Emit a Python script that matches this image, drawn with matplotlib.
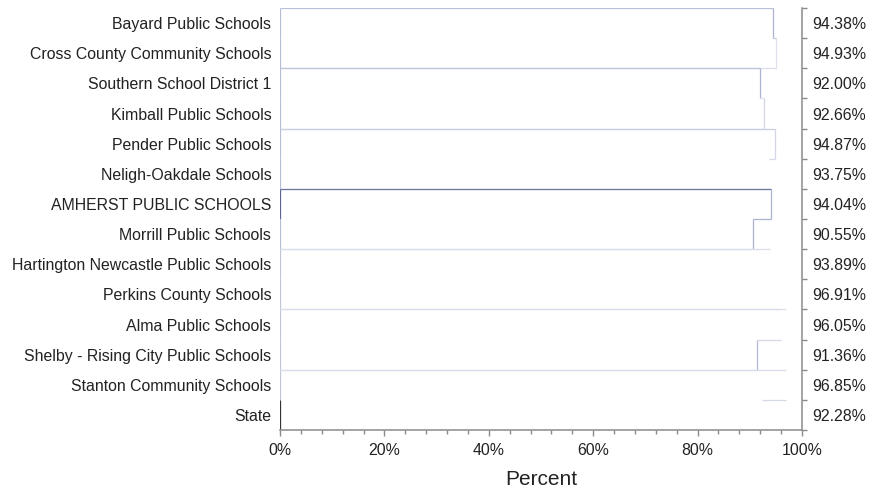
import matplotlib
matplotlib.use("Agg")
import matplotlib.pyplot as plt
from matplotlib.ticker import FixedLocator, NullFormatter, MultipleLocator

plt.rcParams['font.family'] = ['Liberation Sans', 'DejaVu Sans']

# ---- data ----
districts = [
    "Bayard Public Schools",
    "Cross County Community Schools",
    "Southern School District 1",
    "Kimball Public Schools",
    "Pender Public Schools",
    "Neligh-Oakdale Schools",
    "AMHERST PUBLIC SCHOOLS",
    "Morrill Public Schools",
    "Hartington Newcastle Public Schools",
    "Perkins County Schools",
    "Alma Public Schools",
    "Shelby - Rising City Public Schools",
    "Stanton Community Schools",
    "State",
]
values = [94.38, 94.93, 92.00, 92.66, 94.87, 93.75, 94.04,
          90.55, 93.89, 96.91, 96.05, 91.36, 96.85, 92.28]
x_ticks = [0, 20, 40, 60, 80, 100]
x_tick_labels = ["0%", "20%", "40%", "60%", "80%", "100%"]
x_title = "Percent"

# ---- styles (per row) ----
right_cols = ["#aab3d2", "#dfe2ec", "#aab3d2", "#d2d6e6", "#d2d6e6", "#ffffff", "#a9b2d2",
              "#a9b2d2", "#ffffff", "#ffffff", "#ffffff", "#b2bad6", "#ffffff", "#ffffff"]
top_cols = ["#b9c0da", "#c4c9de", "#bcc3da", "#dcdfea", "#c8cde0", "#d6d9e8", "#6e779e",
            "#aab3d2", "#d9dcea", "#ffffff", "#d9dcea", "#d2d6e6", "#d9dcea", "#d6d9e8"]
left_cols = ["#b7bed2", "#b7bed2", "#b7bed2", "#b7bed2", "#b7bed2", "#b7bed2", "#5c6590",
             "#b7bed2", "#c0c6d8", "#c0c6d8", "#c0c6d8", "#c0c6d8", "#c0c6d8", "#333333"]
bottom_prev_col = "#dcdfea"
text_col = "#222222"
axis_col = "#8a8a8a"
fs = 11.4

fig = plt.figure(figsize=(8.71, 4.94), dpi=100)
ax = fig.add_axes([280 / 871, 64 / 494, 522 / 871, 422 / 494])

n = len(values)
rows = list(range(n))
lw = 0.9

for i, v in enumerate(values):
    ax.vlines(0, i - 0.5, i + 0.5, color=left_cols[i], lw=lw, zorder=2)
    ax.vlines(v, i - 0.5, i + 0.5, color=right_cols[i], lw=lw, zorder=2)
    if i % 2 == 0:
        if i > 0:
            ax.hlines(i - 0.5, 0, values[i - 1], color=bottom_prev_col, lw=lw, zorder=1)
        ax.hlines(i - 0.5, 0, v, color=top_cols[i], lw=lw, zorder=3)
    else:
        ax.hlines(i - 0.5, min(values[i - 1], v), max(values[i - 1], v),
                  color=top_cols[i], lw=lw, zorder=2)

ax.set_xlim(0, 100)
ax.set_ylim(n - 0.5, -0.5)

# left labels
ax.set_yticks(rows)
ax.set_yticklabels(districts)
ax.tick_params(axis='y', length=0, pad=6.3, labelsize=fs, labelcolor=text_col)

# bottom axis
ax.set_xticks(x_ticks)
ax.set_xticklabels(x_tick_labels)
ax.xaxis.set_minor_locator(MultipleLocator(4))
ax.tick_params(axis='x', which='major', length=4, width=1, color=axis_col, pad=5,
               labelsize=fs, labelcolor=text_col)
ax.tick_params(axis='x', which='minor', length=2.6, width=1, color=axis_col)
ax.set_xlabel(x_title, fontsize=15, color=text_col, labelpad=9)

for s in ["top", "left"]:
    ax.spines[s].set_visible(False)
for s in ["bottom", "right"]:
    ax.spines[s].set_color(axis_col)
    ax.spines[s].set_linewidth(1.1)

# right axis with values
ax2 = ax.twinx()
ax2.set_ylim(n - 0.5, -0.5)
ax2.yaxis.set_major_locator(FixedLocator([r - 0.5 for r in range(n + 1)]))
ax2.yaxis.set_major_formatter(NullFormatter())
ax2.yaxis.set_minor_locator(FixedLocator(rows))
ax2.set_yticklabels([f"{v:.2f}%" for v in values], minor=True)
ax2.tick_params(axis='y', which='major', length=3.6, width=1, color=axis_col)
ax2.tick_params(axis='y', which='minor', length=0, pad=7.7, labelsize=fs, labelcolor=text_col)
for s in ["top", "left", "bottom", "right"]:
    ax2.spines[s].set_visible(False)

fig.savefig("out.png", dpi=100)
